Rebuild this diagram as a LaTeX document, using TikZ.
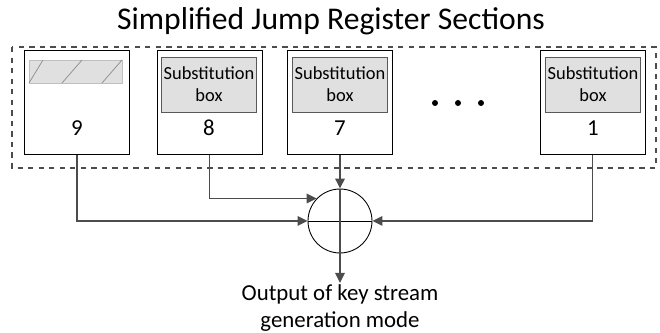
\documentclass[tikz,border=0pt]{standalone}
\usepackage{fontspec}
\setmainfont{Carlito}
\usetikzlibrary{arrows.meta,positioning,calc}
\newcommand\unitx{*0.2mm}
\tikzset{
  reg/.style={draw=black,line width=.55pt,fill=white,minimum width=105\unitx,
              minimum height=105\unitx,inner sep=0pt},
  sbx/.style={draw=black!65,fill=black!12,line width=.5pt,minimum width=87\unitx,
              minimum height=55\unitx,font=\fontsize{10.5}{12.5}\selectfont,align=center,inner sep=1pt},
  hat/.style={draw=black!25,fill=black!12,line width=.4pt,minimum width=93\unitx,
              minimum height=23\unitx,inner sep=0pt},
  ar/.style ={-{Triangle[length=2mm,width=1.9mm]},line width=.9pt,draw=black!70},
  dot/.style={circle,fill=black,inner sep=0pt,minimum size=6\unitx},
  lbl/.style={font=\fontsize{13}{15}\selectfont},
  hdr/.style={font=\fontsize{18}{22}\selectfont},
  xr/.style ={circle,draw=black,line width=.5pt,minimum size=64\unitx,inner sep=0pt},
}
\begin{document}
\begin{tikzpicture}[x=0.02cm,y=-0.02cm]
  \useasboundingbox (0,0) rectangle (660,333);
  \node[hdr] (title) at (331,21){Simplified Jump Register Sections};
  \draw[dashed,black!70,line width=.6pt] (12,47) rectangle (656,168);
  % register sections
  \node[reg] (r9) at (77,102.5){};
  \node[reg] (r8) at (209.5,102.5){};
  \node[reg] (r7) at (340,102.5){};
  \node[reg] (r1) at (592.5,102.5){};
  \node[hat] (h9) at (75.5,71.5){};
  \foreach \a/\b in {29/43,62/82,102/122}
    \draw[black!45,line width=.4pt] (\a,83)--(\b,60);
  \node[sbx] (s8) at (209,84.5){Substitution\\box};
  \node[sbx] (s7) at (340,84.5){Substitution\\box};
  \node[sbx] (s1) at (593,84.5){Substitution\\box};
  \node[lbl] at (77,128){9};
  \node[lbl] at (209,128){8};
  \node[lbl] at (340,128){7};
  \node[lbl] at (593,128){1};
  \foreach \x in {435,458,481} \node[dot] at (\x,103){};
  % combiner
  \node[xr] (xor) at (340,221){};
  \draw[black,line width=.5pt] (xor.west)--(xor.east);
  \draw[black!70,line width=.9pt] (xor.north)--(xor.south);
  \draw[ar] (r7.south)--(xor.north);
  \draw[ar] (r8.south)|-(xor.136);
  \draw[ar] (r9.south)|-(xor.west);
  \draw[ar] (r1.south)|-(xor.east);
  \node[lbl,align=center,anchor=north,inner sep=1pt] (out) at (340,283)
       {Output of key stream\\generation mode};
  \draw[ar] (xor.south)--(out.north);
\end{tikzpicture}
\end{document}
